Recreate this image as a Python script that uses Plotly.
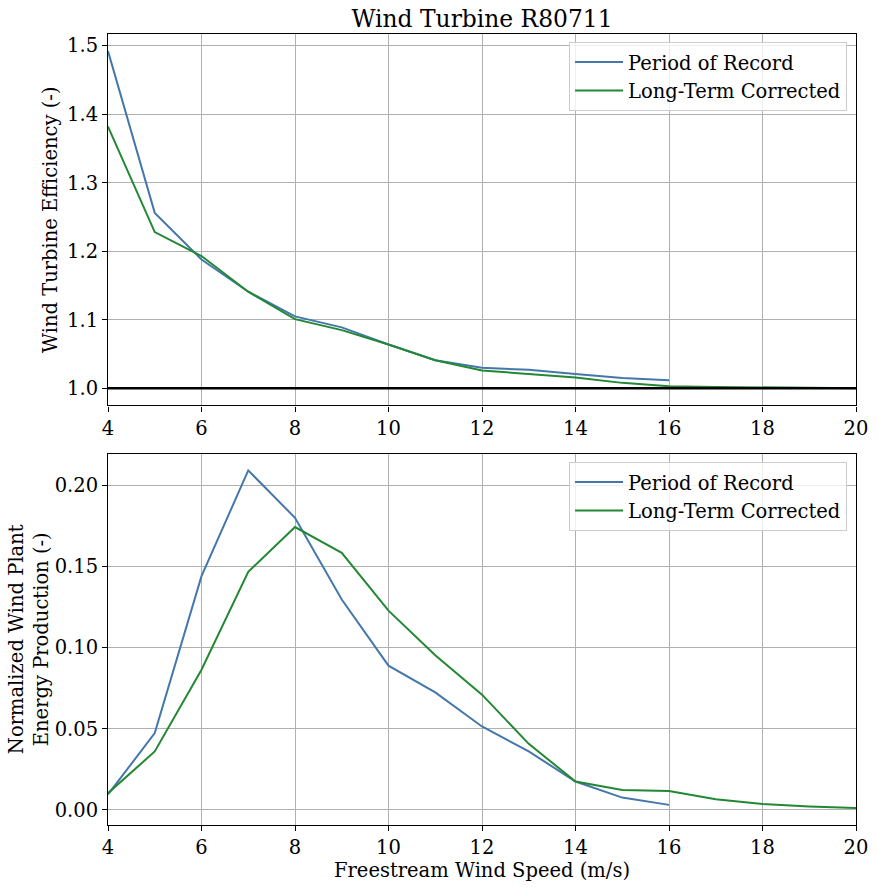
import plotly.graph_objects as go
from plotly.subplots import make_subplots

wind_speed = [4, 5, 6, 7, 8, 9, 10, 11, 12, 13, 14, 15, 16, 17, 18, 19, 20]
wind_speed_por = [4, 5, 6, 7, 8, 9, 10, 11, 12, 13, 14, 15, 16]

eff_por = [1.492, 1.256, 1.188, 1.141, 1.105, 1.089, 1.064, 1.041, 1.030, 1.027, 1.021, 1.015, 1.012]
eff_lt = [1.382, 1.228, 1.193, 1.141, 1.101, 1.085, 1.064, 1.041, 1.026, 1.021, 1.016, 1.008, 1.003,
          1.002, 1.0015, 1.0005, 1.0003]

energy_por = [0.0095, 0.0473, 0.144, 0.2092, 0.180, 0.1296, 0.0889, 0.0724, 0.0514, 0.036, 0.0175,
              0.0076, 0.0031]
energy_lt = [0.0103, 0.036, 0.0864, 0.1467, 0.1743, 0.1584, 0.1228, 0.0953, 0.071, 0.0407, 0.0175,
             0.0123, 0.0117, 0.0066, 0.0037, 0.0021, 0.0011]

x_ticks = [4, 6, 8, 10, 12, 14, 16, 18, 20]
eff_ticks = [1.0, 1.1, 1.2, 1.3, 1.4, 1.5]
energy_ticks = [0.00, 0.05, 0.10, 0.15, 0.20]

BLUE = "#4477AA"
GREEN = "#228833"
FONT = "DejaVu Serif"
FS = 19.5

fig = make_subplots(rows=2, cols=1, vertical_spacing=0.0607)

fig.add_trace(go.Scatter(x=wind_speed_por, y=eff_por, mode="lines", name="Period of Record",
                         line=dict(color=BLUE, width=2), legend="legend"), row=1, col=1)
fig.add_trace(go.Scatter(x=wind_speed, y=eff_lt, mode="lines", name="Long-Term Corrected",
                         line=dict(color=GREEN, width=2), legend="legend"), row=1, col=1)
fig.add_trace(go.Scatter(x=wind_speed_por, y=energy_por, mode="lines", name="Period of Record",
                         line=dict(color=BLUE, width=2), legend="legend2"), row=2, col=1)
fig.add_trace(go.Scatter(x=wind_speed, y=energy_lt, mode="lines", name="Long-Term Corrected",
                         line=dict(color=GREEN, width=2), legend="legend2"), row=2, col=1)

fig.add_hline(y=1.0, line=dict(color="black", width=2.5), row=1, col=1)

axis_common = dict(showline=True, linecolor="black", linewidth=1.1, mirror=True,
                   ticks="outside", ticklen=5, tickwidth=1.1, tickcolor="black",
                   showgrid=True, gridcolor="#b0b0b0", gridwidth=1.1, zeroline=False,
                   automargin=False,
                   tickfont=dict(family=FONT, size=FS, color="black"))

legend_common = dict(x=0.988, xanchor="right", yanchor="top",
                     bgcolor="rgba(255,255,255,0.8)", bordercolor="#cccccc", borderwidth=1,
                     font=dict(family=FONT, size=FS, color="black"), tracegroupgap=0,
                     itemwidth=48)

fig.update_layout(
    width=878, height=887,
    margin=dict(l=108, r=22, t=34, b=62, autoexpand=False),
    plot_bgcolor="white", paper_bgcolor="white",
    font=dict(family=FONT, size=FS, color="black"),
    title=dict(text="Wind Turbine R80711", x=(108 + 856) / 2 / 878, xanchor="center",
               y=1 - 19 / 887, yanchor="middle", font=dict(family=FONT, size=23.4, color="black")),
    legend=dict(y=0.99, **legend_common),
    legend2=dict(y=0.459, **legend_common),
)

fig.update_xaxes(**axis_common)
fig.update_yaxes(**axis_common)

fig.update_xaxes(range=[4, 20], tickvals=x_ticks, row=1, col=1)
fig.update_xaxes(range=[4, 20], tickvals=x_ticks, row=2, col=1,
                 title=dict(text="Freestream Wind Speed (m/s)", standoff=2,
                            font=dict(family=FONT, size=FS)))
fig.update_yaxes(range=[0.975, 1.517], tickvals=eff_ticks, tickformat=".1f", row=1, col=1,
                 title=dict(text="Wind Turbine Efficiency (-)", standoff=4,
                            font=dict(family=FONT, size=FS)))
fig.update_yaxes(range=[-0.0093, 0.2196], tickvals=energy_ticks, tickformat=".2f", row=2, col=1,
                 title=dict(text="Normalized Wind Plant<br>Energy Production (-)", standoff=0,
                            font=dict(family=FONT, size=FS)))

fig.write_html("out.html")
